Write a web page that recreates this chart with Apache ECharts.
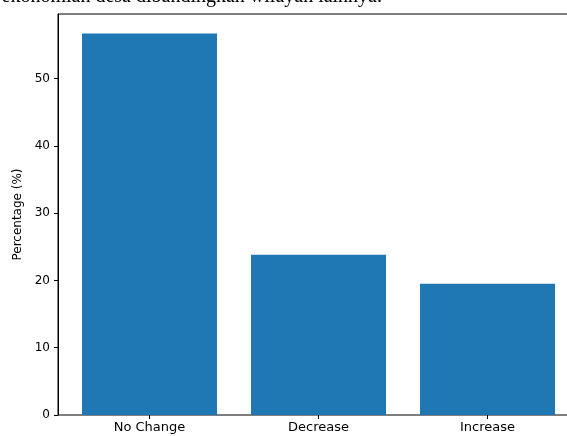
<!DOCTYPE html>
<html>
<head>
<meta charset="utf-8">
<script src="https://cdn.jsdelivr.net/npm/echarts@6/dist/echarts.min.js"></script>
<style>html,body{margin:0;padding:0;background:#fff;}#c{width:567px;height:436px;}</style>
</head>
<body>
<div id="c"></div>
<script>
const categories = ["No Change", "Decrease", "Increase"];
const values = [56.7, 23.8, 19.5];
const yMax = 59.6;
const titleText = "Persepsi perubahan kondisi perekonomian desa dibandingkan wilayah lainnya.";

const chart = echarts.init(document.getElementById('c'), null, {renderer: 'canvas'});
const font = 'DejaVu Sans';
chart.setOption({
  animation: false,
  backgroundColor: '#fff',
  grid: [
    {left: 58, width: 521, top: 14, bottom: 21, outerBoundsMode: 'none', show: true, borderColor: '#000', borderWidth: 1, backgroundColor: 'transparent'},
    {left: 65, width: 507, top: 14, bottom: 21, outerBoundsMode: 'none'}
  ],
  graphic: [{
    type: 'text', right: 185, top: -13,
    style: {text: titleText, font: '20px "Liberation Serif"', fill: '#000'}
  }],
  xAxis: [
    {gridIndex: 0, type: 'value', min: 0, max: 1, show: false},
    {
      gridIndex: 1, type: 'category', data: categories, boundaryGap: true,
      axisLine: {show: false},
      axisTick: {show: true, alignWithLabel: true, length: 4, lineStyle: {color: '#000'}},
      axisLabel: {color: '#000', fontFamily: font, fontSize: 13, margin: 6}
    }
  ],
  yAxis: [
    {
      gridIndex: 0, type: 'value', min: 0, max: yMax, interval: 10,
      name: 'Percentage (%)', nameLocation: 'middle', nameGap: 33, nameRotate: 90,
      nameTextStyle: {color: '#000', fontFamily: font, fontSize: 12},
      splitLine: {show: false},
      axisLine: {show: true, lineStyle: {color: '#000', width: 1}},
      axisTick: {show: true, length: 4, lineStyle: {color: '#000'}},
      axisLabel: {color: '#000', fontFamily: font, fontSize: 12, margin: 8,
        showMaxLabel: false}
    },
    {gridIndex: 1, type: 'value', min: 0, max: yMax, show: false}
  ],
  series: [{
    type: 'bar', xAxisIndex: 1, yAxisIndex: 1,
    data: values,
    barWidth: 135,
    itemStyle: {color: '#1f77b4'}
  }]
});
</script>
</body>
</html>
